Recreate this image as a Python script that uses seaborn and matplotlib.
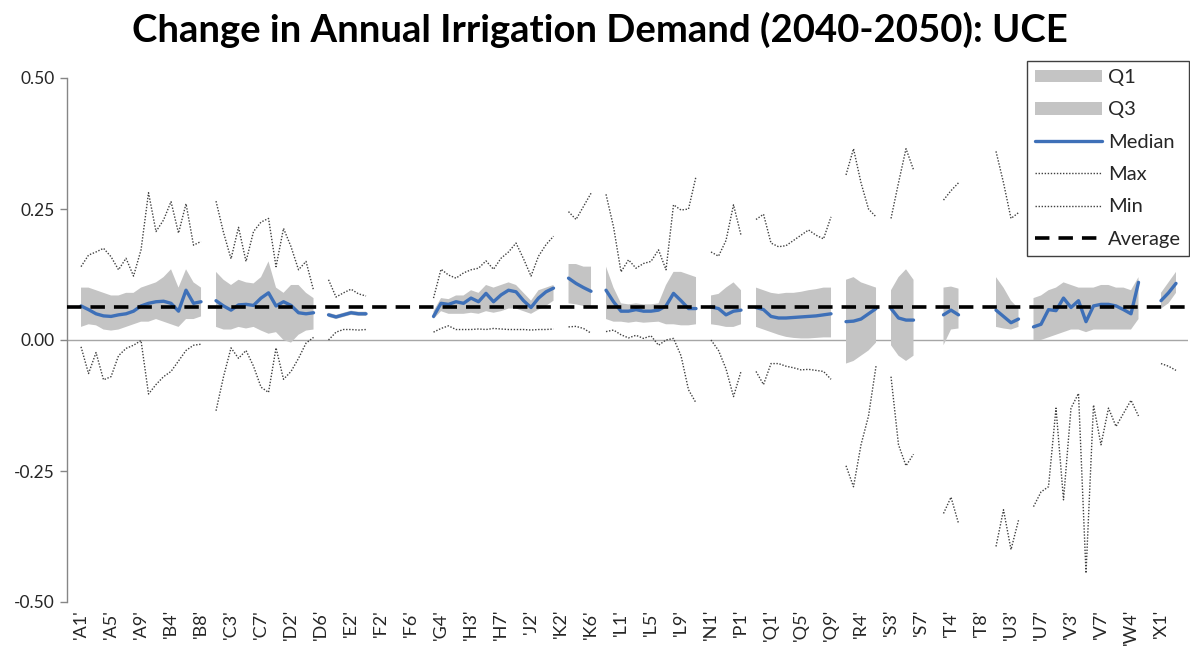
import numpy as np
import pandas as pd
import matplotlib
matplotlib.use("Agg")
import matplotlib.pyplot as plt
import seaborn as sns
from matplotlib.lines import Line2D
from matplotlib.patches import Patch

nan = np.nan

# category groups (letter + running number), e.g. 'A1' ... 'X4'
group_letters = ["A", "B", "C", "D", "E", "F", "G", "H", "J", "K", "L", "M",
                 "N", "P", "Q", "R", "S", "T", "U", "V", "W", "X"]
group_sizes = [9, 9, 9, 8, 4, 6, 5, 9, 4, 9, 9, 3,
               4, 4, 9, 5, 7, 9, 8, 7, 7, 4]
categories = [f"{g}{n}" for g, size in zip(group_letters, group_sizes)
              for n in range(1, size + 1)]

# values, one line per letter group
max_vals = [
    0.140, 0.162, 0.168, 0.175, 0.159, 0.134, 0.156, 0.122, 0.172,            # A
    0.281, 0.207, 0.229, 0.264, 0.204, 0.260, 0.181, 0.188, nan,              # B
    0.265, 0.205, 0.155, 0.215, 0.150, 0.207, 0.225, 0.232, 0.140,            # C
    0.213, 0.178, 0.134, 0.150, 0.095, nan, 0.115, 0.082,                     # D
    0.090, 0.097, 0.088, 0.084,                                               # E
    nan, nan, nan, nan, nan, nan,                                             # F
    nan, nan, 0.080, 0.135, 0.124,                                            # G
    0.118, 0.128, 0.134, 0.137, 0.151, 0.135, 0.156, 0.168, 0.185,            # H
    0.155, 0.122, 0.160, 0.182,                                               # J
    0.198, nan, 0.245, 0.230, 0.255, 0.280, nan, 0.278, 0.216,                # K
    0.130, 0.153, 0.137, 0.146, 0.150, 0.172, 0.134, 0.258, 0.248,            # L
    0.250, 0.312, nan,                                                        # M
    0.168, 0.160, 0.190, 0.258,                                               # N
    0.200, nan, 0.230, 0.240,                                                 # P
    0.185, 0.178, 0.180, 0.190, 0.200, 0.210, 0.200, 0.193, 0.235,            # Q
    nan, 0.315, 0.365, 0.300, 0.250,                                          # R
    0.235, nan, 0.232, 0.300, 0.365, 0.325, nan,                              # S
    nan, nan, 0.267, 0.285, 0.300, nan, nan, nan, nan,                        # T
    0.360, 0.300, 0.232, 0.243, nan, nan, nan, nan,                           # U
    nan, nan, nan, nan, nan, nan, nan,                                        # V
    nan, nan, nan, nan, nan, nan, nan,                                        # W
    nan, nan, nan, nan,                                                       # X
]

min_vals = [
    -0.013, -0.064, -0.024, -0.076, -0.070, -0.030, -0.016, -0.010, -0.001,
    -0.103, -0.085, -0.070, -0.060, -0.040, -0.020, -0.010, -0.008, nan,
    -0.135, -0.070, -0.015, -0.035, -0.020, -0.050, -0.090, -0.100, -0.015,
    -0.075, -0.060, -0.035, -0.006, 0.005, nan, 0.000, 0.015,
    0.020, 0.020, 0.019, 0.020,
    nan, nan, nan, nan, nan, nan,
    nan, nan, 0.015, 0.022, 0.027,
    0.020, 0.020, 0.020, 0.021, 0.020, 0.022, 0.021, 0.020, 0.020,
    0.020, 0.019, 0.020, 0.020,
    0.021, nan, 0.025, 0.026, 0.022, 0.013, nan, 0.016, 0.019,
    0.010, 0.004, 0.009, 0.003, 0.008, -0.010, 0.000, 0.003, -0.030,
    -0.095, -0.120, nan,
    0.000, -0.020, -0.055, -0.108,
    -0.060, nan, -0.060, -0.085,
    -0.045, -0.045, -0.050, -0.053, -0.057, -0.056, -0.058, -0.060, -0.075,
    nan, -0.240, -0.280, -0.200, -0.145,
    -0.050, nan, -0.070, -0.200, -0.240, -0.218, nan,
    nan, nan, -0.331, -0.300, -0.350, nan, nan, nan, nan,
    -0.394, -0.324, -0.400, -0.344, nan, -0.318, -0.290, -0.280,
    -0.130, -0.305, -0.130, -0.102, -0.445, -0.124, -0.200,
    -0.130, -0.165, -0.140, -0.115, -0.145, nan, nan,
    -0.045, -0.050, -0.058, nan,
]

median_vals = [
    0.065, 0.058, 0.050, 0.046, 0.045, 0.048, 0.050, 0.055, 0.065,
    0.070, 0.073, 0.074, 0.070, 0.055, 0.095, 0.070, 0.073, nan,
    0.075, 0.065, 0.057, 0.067, 0.068, 0.066, 0.080, 0.090, 0.065,
    0.073, 0.066, 0.052, 0.050, 0.052, nan, 0.048, 0.044,
    0.048, 0.052, 0.050, 0.050,
    nan, nan, nan, nan, nan, nan,
    nan, nan, 0.045, 0.070, 0.068,
    0.073, 0.070, 0.080, 0.073, 0.089, 0.073, 0.086, 0.095, 0.092,
    0.075, 0.062, 0.080, 0.092,
    0.099, nan, 0.118, 0.108, 0.100, 0.093, nan, 0.095, 0.073,
    0.055, 0.055, 0.058, 0.055, 0.055, 0.057, 0.065, 0.089, 0.075,
    0.060, 0.060, nan,
    0.063, 0.060, 0.048, 0.055,
    0.057, nan, 0.062, 0.058,
    0.045, 0.042, 0.042, 0.043, 0.044, 0.045, 0.046, 0.048, 0.050,
    nan, 0.035, 0.036, 0.040, 0.050,
    0.060, nan, 0.060, 0.042, 0.038, 0.038, nan,
    nan, nan, 0.048, 0.057, 0.048, nan, nan, nan, nan,
    0.057, 0.045, 0.033, 0.040, nan, 0.025, 0.030, 0.058,
    0.056, 0.080, 0.062, 0.075, 0.035, 0.065, 0.068,
    0.068, 0.065, 0.058, 0.050, 0.110, nan, nan,
    0.075, 0.090, 0.108, nan,
]

q3_vals = [
    0.100, 0.100, 0.095, 0.090, 0.085, 0.085, 0.090, 0.090, 0.100,
    0.105, 0.110, 0.120, 0.135, 0.100, 0.135, 0.110, 0.100, nan,
    0.130, 0.115, 0.105, 0.115, 0.110, 0.108, 0.120, 0.150, 0.100,
    0.090, 0.105, 0.105, 0.090, 0.080, nan, 0.052, 0.048,
    0.052, 0.056, 0.054, 0.054,
    nan, nan, nan, nan, nan, nan,
    nan, nan, 0.055, 0.080, 0.078,
    0.085, 0.085, 0.095, 0.090, 0.105, 0.100, 0.105, 0.110, 0.105,
    0.090, 0.075, 0.095, 0.100,
    0.105, nan, 0.145, 0.145, 0.140, 0.140, nan, 0.140, 0.100,
    0.070, 0.068, 0.070, 0.068, 0.068, 0.070, 0.105, 0.130, 0.130,
    0.125, 0.120, nan,
    0.085, 0.088, 0.100, 0.110,
    0.095, nan, 0.100, 0.095,
    0.090, 0.088, 0.090, 0.090, 0.092, 0.095, 0.097, 0.100, 0.100,
    nan, 0.115, 0.120, 0.110, 0.105,
    0.100, nan, 0.095, 0.120, 0.135, 0.115, nan,
    nan, nan, 0.100, 0.102, 0.098, nan, nan, nan, nan,
    0.120, 0.100, 0.075, 0.060, nan, 0.080, 0.085, 0.095,
    0.100, 0.110, 0.105, 0.100, 0.100, 0.100, 0.105,
    0.105, 0.100, 0.100, 0.095, 0.120, nan, nan,
    0.090, 0.110, 0.130, nan,
]

q1_vals = [
    0.025, 0.030, 0.028, 0.020, 0.018, 0.020, 0.025, 0.030, 0.035,
    0.035, 0.040, 0.035, 0.030, 0.025, 0.040, 0.040, 0.045, nan,
    0.025, 0.020, 0.020, 0.025, 0.022, 0.025, 0.018, 0.012, 0.015,
    0.000, -0.005, 0.010, 0.018, 0.020, nan, 0.044, 0.040,
    0.044, 0.048, 0.046, 0.046,
    nan, nan, nan, nan, nan, nan,
    nan, nan, 0.040, 0.055, 0.050,
    0.050, 0.050, 0.052, 0.050, 0.055, 0.052, 0.055, 0.060, 0.060,
    0.055, 0.050, 0.058, 0.065,
    0.075, nan, 0.070, 0.068, 0.065, 0.065, nan, 0.040, 0.035,
    0.035, 0.033, 0.035, 0.033, 0.034, 0.035, 0.030, 0.030, 0.028,
    0.028, 0.030, nan,
    0.030, 0.028, 0.025, 0.025,
    0.030, nan, 0.025, 0.020,
    0.015, 0.010, 0.006, 0.004, 0.003, 0.003, 0.004, 0.005, 0.005,
    nan, -0.045, -0.040, -0.030, -0.020,
    -0.005, nan, -0.010, -0.030, -0.040, -0.030, nan,
    nan, nan, -0.010, 0.020, 0.022, nan, nan, nan, nan,
    0.025, 0.022, 0.020, 0.025, nan, 0.000, 0.000, 0.005,
    0.010, 0.015, 0.020, 0.020, 0.015, 0.020, 0.020,
    0.020, 0.020, 0.020, 0.020, 0.040, nan, nan,
    0.060, 0.070, 0.090, nan,
]

average_value = 0.063

band_color = "#C4C4C4"
median_color = "#3E70B8"
dot_color = "#404040"
dotted = (0, (1, 1.2))

sns.set_theme(style="white")
plt.rcParams["font.family"] = ["Lato", "DejaVu Sans"]

df = pd.DataFrame({
    "pos": np.arange(len(categories)),
    "q1": q1_vals, "q3": q3_vals, "median": median_vals,
    "max": max_vals, "min": min_vals,
})

fig = plt.figure(figsize=(11.9, 6.59), dpi=100)
ax = fig.add_axes([67 / 1190, 1 - 602 / 659, (1188 - 67) / 1190, (602 - 78) / 659])

# interquartile band (Q1 -> median, median -> Q3)
ax.fill_between(df["pos"], df["q1"], df["median"], color=band_color, lw=0, zorder=1)
ax.fill_between(df["pos"], df["median"], df["q3"], color=band_color, lw=0, zorder=1)


def draw_line(col, **kw):
    # gaps in the data split the line into separate pieces
    d = df[["pos", col]].copy()
    d["seg"] = d[col].isna().cumsum()
    d = d.dropna()
    sns.lineplot(data=d, x="pos", y=col, units="seg", estimator=None,
                 legend=False, ax=ax, **kw)


draw_line("max", color=dot_color, lw=1.0, linestyle=dotted, zorder=2)
draw_line("min", color=dot_color, lw=1.0, linestyle=dotted, zorder=2)
draw_line("median", color=median_color, lw=2.4, zorder=2.5)

ax.axhline(0, color="#A6A6A6", lw=1.0, zorder=0.5)
ax.axhline(average_value, color="black", lw=2.6, dashes=(4, 2.5), zorder=3)

ax.set_xlim(-1.87, 147.6)
ax.set_ylim(-0.5, 0.5)
ax.set_yticks([-0.5, -0.25, 0, 0.25, 0.5])
ax.set_yticklabels([f"{v:.2f}" for v in [-0.5, -0.25, 0, 0.25, 0.5]],
                   fontsize=12.5, color="#262626")
ax.set_xticks(df["pos"][::4])
ax.set_xticklabels([f"'{c}'" for c in categories[::4]], rotation=90,
                   fontsize=13, color="#262626")
ax.tick_params(axis="x", bottom=False, length=0, pad=5)
ax.tick_params(axis="y", left=True, length=5, width=1, color="#868686", pad=4)
ax.set_xlabel("")
ax.set_ylabel("")
for side in ["top", "right", "bottom"]:
    ax.spines[side].set_visible(False)
ax.spines["left"].set_color("#868686")
ax.spines["left"].set_linewidth(1.0)

handles = [
    Patch(facecolor=band_color, edgecolor="none", label="Q1"),
    Patch(facecolor=band_color, edgecolor="none", label="Q3"),
    Line2D([], [], color=median_color, lw=2.4, label="Median"),
    Line2D([], [], color=dot_color, lw=1.0, linestyle=dotted, label="Max"),
    Line2D([], [], color=dot_color, lw=1.0, linestyle=dotted, label="Min"),
    Line2D([], [], color="black", lw=2.6, dashes=(4, 2.5), label="Average"),
]
leg = ax.legend(handles=handles, loc="upper right",
                bbox_to_anchor=(1189 / 1190, 1 - 61 / 659),
                bbox_transform=fig.transFigure, frameon=True, fancybox=False,
                framealpha=1, edgecolor="#404040", fontsize=14.5,
                handlelength=3.3, handleheight=0.6, labelspacing=0.76,
                borderpad=0.4, handletextpad=0.3, borderaxespad=0)
leg.get_frame().set_linewidth(1.0)
leg.set_zorder(10)

fig.text(600 / 1190, 1 - 30 / 659,
         "Change in Annual Irrigation Demand (2040-2050): UCE",
         ha="center", va="center", fontsize=27.5, fontweight="bold",
         color="black")

fig.savefig("out.png", dpi=100)
